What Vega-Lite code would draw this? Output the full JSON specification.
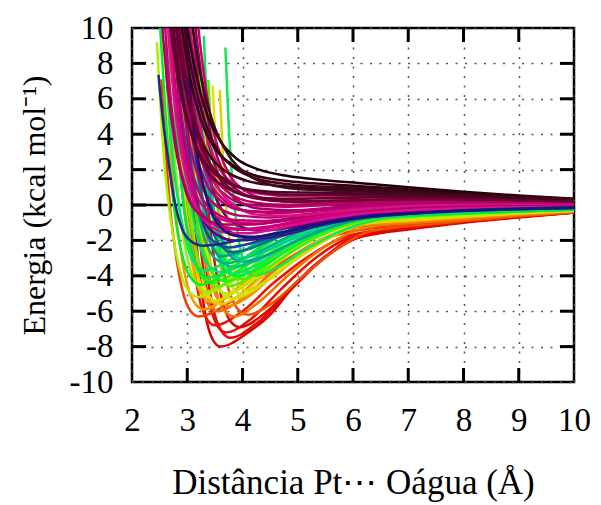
{
"$schema": "https://vega.github.io/schema/vega-lite/v6.json",
"width": 442, "height": 354,
"autosize": {"type": "none"},
"padding": {"left": 132, "top": 28, "right": 27, "bottom": 123},
"background": "white",
"config": {
  "view": {"stroke": "#000", "strokeWidth": 2.5},
  "axis": {"labelFont": "Liberation Serif", "titleFont": "Liberation Serif", "labelColor": "#000", "titleColor": "#000", "titleFontWeight": "normal", "domain": false, "gridColor": "#555", "gridDash": [2, 7.5], "gridWidth": 1.5, "labelOverlap": false, "labelFlush": false}
},
"datasets": {
"curves": [
{"c":"R1","r":2.97,"e":9},{"c":"R1","r":3.04,"e":4},{"c":"R1","r":3.11,"e":0.2},{"c":"R1","r":3.18,"e":-2.6},{"c":"R1","r":3.32,"e":-6.06},{"c":"R1","r":3.46,"e":-7.6},{"c":"R1","r":3.6,"e":-8},{"c":"R1","r":4.1,"e":-7.2},{"c":"R1","r":4.5,"e":-6.2},{"c":"R1","r":5,"e":-4.3},{"c":"R1","r":5.5,"e":-2.9},{"c":"R1","r":6,"e":-1.95},{"c":"R1","r":6.5,"e":-1.58},{"c":"R1","r":7,"e":-1.38},{"c":"R1","r":8,"e":-1},{"c":"R1","r":9,"e":-0.7},{"c":"R1","r":10,"e":-0.43},
{"c":"R2","r":3.06,"e":8.5},{"c":"R2","r":3.14,"e":3.75},{"c":"R2","r":3.22,"e":0.2},{"c":"R2","r":3.3,"e":-2.43},{"c":"R2","r":3.46,"e":-5.69},{"c":"R2","r":3.62,"e":-7.13},{"c":"R2","r":3.78,"e":-7.5},{"c":"R2","r":4.25,"e":-6.7},{"c":"R2","r":4.84,"e":-4.9},{"c":"R2","r":5.4,"e":-3.2},{"c":"R2","r":5.9,"e":-2},{"c":"R2","r":6.4,"e":-1.55},{"c":"R2","r":7,"e":-1.32},{"c":"R2","r":8,"e":-0.96},{"c":"R2","r":9,"e":-0.67},{"c":"R2","r":10,"e":-0.42},
{"c":"R7","r":3,"e":8.2},{"c":"R7","r":3.08,"e":3.7},{"c":"R7","r":3.16,"e":0.2},{"c":"R7","r":3.24,"e":-2.35},{"c":"R7","r":3.4,"e":-5.5},{"c":"R7","r":3.55,"e":-6.85},{"c":"R7","r":3.7,"e":-7.2},{"c":"R7","r":4.15,"e":-6.45},{"c":"R7","r":4.7,"e":-4.75},{"c":"R7","r":5.3,"e":-3.05},{"c":"R7","r":5.85,"e":-1.95},{"c":"R7","r":6.4,"e":-1.52},{"c":"R7","r":7,"e":-1.3},{"c":"R7","r":8,"e":-0.95},{"c":"R7","r":9,"e":-0.66},{"c":"R7","r":10,"e":-0.42},
{"c":"R3","r":2.86,"e":7.7},{"c":"R3","r":2.93,"e":3.4},{"c":"R3","r":3,"e":0.18},{"c":"R3","r":3.07,"e":-2.2},{"c":"R3","r":3.21,"e":-5.15},{"c":"R3","r":3.36,"e":-6.47},{"c":"R3","r":3.5,"e":-6.8},{"c":"R3","r":3.97,"e":-6.07},{"c":"R3","r":4.56,"e":-4.41},{"c":"R3","r":5.2,"e":-2.9},{"c":"R3","r":5.8,"e":-1.85},{"c":"R3","r":6.4,"e":-1.45},{"c":"R3","r":7,"e":-1.25},{"c":"R3","r":8,"e":-0.9},{"c":"R3","r":9,"e":-0.64},{"c":"R3","r":10,"e":-0.41},
{"c":"R4","r":2.53,"e":7.1},{"c":"R4","r":2.61,"e":3.15},{"c":"R4","r":2.68,"e":0.17},{"c":"R4","r":2.76,"e":-2.04},{"c":"R4","r":2.91,"e":-4.78},{"c":"R4","r":3.06,"e":-5.99},{"c":"R4","r":3.21,"e":-6.3},{"c":"R4","r":3.71,"e":-5.62},{"c":"R4","r":4.34,"e":-4.08},{"c":"R4","r":5,"e":-2.7},{"c":"R4","r":5.7,"e":-1.7},{"c":"R4","r":6.4,"e":-1.3},{"c":"R4","r":7,"e":-1.12},{"c":"R4","r":8,"e":-0.84},{"c":"R4","r":9,"e":-0.6},{"c":"R4","r":10,"e":-0.4},
{"c":"R5","r":3.2,"e":7.8},{"c":"R5","r":3.28,"e":3.45},{"c":"R5","r":3.37,"e":0.19},{"c":"R5","r":3.45,"e":-2.24},{"c":"R5","r":3.62,"e":-5.23},{"c":"R5","r":3.78,"e":-6.56},{"c":"R5","r":3.95,"e":-6.9},{"c":"R5","r":4.39,"e":-6.15},{"c":"R5","r":4.95,"e":-4.47},{"c":"R5","r":5.5,"e":-2.95},{"c":"R5","r":6,"e":-1.95},{"c":"R5","r":6.5,"e":-1.5},{"c":"R5","r":7,"e":-1.28},{"c":"R5","r":8,"e":-0.94},{"c":"R5","r":9,"e":-0.66},{"c":"R5","r":10,"e":-0.42},
{"c":"R6","r":3.28,"e":7},{"c":"R6","r":3.37,"e":3.1},{"c":"R6","r":3.46,"e":0.17},{"c":"R6","r":3.55,"e":-2},{"c":"R6","r":3.74,"e":-4.7},{"c":"R6","r":3.92,"e":-5.9},{"c":"R6","r":4.1,"e":-6.2},{"c":"R6","r":4.54,"e":-5.53},{"c":"R6","r":5.1,"e":-4},{"c":"R6","r":5.7,"e":-2.5},{"c":"R6","r":6.2,"e":-1.6},{"c":"R6","r":6.7,"e":-1.3},{"c":"R6","r":7.3,"e":-1.12},{"c":"R6","r":8,"e":-0.9},{"c":"R6","r":9,"e":-0.63},{"c":"R6","r":10,"e":-0.41},
{"c":"O1","r":2.86,"e":6.8},{"c":"O1","r":2.93,"e":3},{"c":"O1","r":3.01,"e":0.16},{"c":"O1","r":3.09,"e":-1.94},{"c":"O1","r":3.24,"e":-4.55},{"c":"O1","r":3.4,"e":-5.7},{"c":"O1","r":3.55,"e":-6},{"c":"O1","r":3.97,"e":-5.35},{"c":"O1","r":4.5,"e":-3.9},{"c":"O1","r":5.1,"e":-2.5},{"c":"O1","r":5.7,"e":-1.55},{"c":"O1","r":6.3,"e":-1.15},{"c":"O1","r":7,"e":-1},{"c":"O1","r":8,"e":-0.78},{"c":"O1","r":9,"e":-0.56},{"c":"O1","r":10,"e":-0.37},
{"c":"O4","r":3.12,"e":7.1},{"c":"O4","r":3.2,"e":3.2},{"c":"O4","r":3.28,"e":0.17},{"c":"O4","r":3.36,"e":-2.05},{"c":"O4","r":3.52,"e":-4.8},{"c":"O4","r":3.68,"e":-6},{"c":"O4","r":3.85,"e":-6.3},{"c":"O4","r":4.25,"e":-5.6},{"c":"O4","r":4.8,"e":-4.05},{"c":"O4","r":5.4,"e":-2.55},{"c":"O4","r":6,"e":-1.5},{"c":"O4","r":6.5,"e":-1.15},{"c":"O4","r":7,"e":-1.02},{"c":"O4","r":8,"e":-0.8},{"c":"O4","r":9,"e":-0.57},{"c":"O4","r":10,"e":-0.38},
{"c":"O2","r":3,"e":6.44},{"c":"O2","r":3.08,"e":2.85},{"c":"O2","r":3.17,"e":0.15},{"c":"O2","r":3.25,"e":-1.85},{"c":"O2","r":3.42,"e":-4.32},{"c":"O2","r":3.58,"e":-5.42},{"c":"O2","r":3.75,"e":-5.7},{"c":"O2","r":4.15,"e":-5.08},{"c":"O2","r":4.65,"e":-3.69},{"c":"O2","r":5.25,"e":-2.26},{"c":"O2","r":5.95,"e":-1.3},{"c":"O2","r":6.5,"e":-1.05},{"c":"O2","r":7,"e":-0.95},{"c":"O2","r":8,"e":-0.72},{"c":"O2","r":9,"e":-0.52},{"c":"O2","r":10,"e":-0.35},
{"c":"O5","r":2.62,"e":7.6},{"c":"O5","r":2.7,"e":3.3},{"c":"O5","r":2.77,"e":0.16},{"c":"O5","r":2.85,"e":-1.9},{"c":"O5","r":3,"e":-4.5},{"c":"O5","r":3.15,"e":-5.6},{"c":"O5","r":3.3,"e":-5.9},{"c":"O5","r":3.7,"e":-5.25},{"c":"O5","r":4.2,"e":-3.8},{"c":"O5","r":4.8,"e":-2.35},{"c":"O5","r":5.5,"e":-1.3},{"c":"O5","r":6.2,"e":-0.98},{"c":"O5","r":7,"e":-0.87},{"c":"O5","r":8,"e":-0.68},{"c":"O5","r":9,"e":-0.49},{"c":"O5","r":10,"e":-0.34},
{"c":"O3","r":2.75,"e":8.4},{"c":"O3","r":2.78,"e":6.2},{"c":"O3","r":2.86,"e":2.75},{"c":"O3","r":2.93,"e":0.15},{"c":"O3","r":3.01,"e":-1.78},{"c":"O3","r":3.15,"e":-4.17},{"c":"O3","r":3.3,"e":-5.23},{"c":"O3","r":3.45,"e":-5.5},{"c":"O3","r":3.85,"e":-4.9},{"c":"O3","r":4.35,"e":-3.56},{"c":"O3","r":4.95,"e":-2.18},{"c":"O3","r":5.65,"e":-1.2},{"c":"O3","r":6.3,"e":-0.95},{"c":"O3","r":7,"e":-0.85},{"c":"O3","r":8,"e":-0.66},{"c":"O3","r":9,"e":-0.48},{"c":"O3","r":10,"e":-0.33},
{"c":"Y1","r":2.88,"e":6.33},{"c":"Y1","r":2.96,"e":2.8},{"c":"Y1","r":3.04,"e":0.15},{"c":"Y1","r":3.12,"e":-1.81},{"c":"Y1","r":3.28,"e":-4.24},{"c":"Y1","r":3.44,"e":-5.33},{"c":"Y1","r":3.6,"e":-5.6},{"c":"Y1","r":4,"e":-5},{"c":"Y1","r":4.5,"e":-3.63},{"c":"Y1","r":5.1,"e":-2.22},{"c":"Y1","r":5.8,"e":-1.25},{"c":"Y1","r":6.4,"e":-0.98},{"c":"Y1","r":7,"e":-0.87},{"c":"Y1","r":8,"e":-0.66},{"c":"Y1","r":9,"e":-0.47},{"c":"Y1","r":10,"e":-0.32},
{"c":"Y6","r":2.8,"e":7},{"c":"Y6","r":2.88,"e":2.7},{"c":"Y6","r":2.96,"e":0.14},{"c":"Y6","r":3.04,"e":-1.75},{"c":"Y6","r":3.2,"e":-4.1},{"c":"Y6","r":3.35,"e":-5.15},{"c":"Y6","r":3.5,"e":-5.4},{"c":"Y6","r":3.9,"e":-4.85},{"c":"Y6","r":4.4,"e":-3.5},{"c":"Y6","r":5,"e":-2.15},{"c":"Y6","r":5.7,"e":-1.2},{"c":"Y6","r":6.3,"e":-0.95},{"c":"Y6","r":7,"e":-0.84},{"c":"Y6","r":8,"e":-0.64},{"c":"Y6","r":9,"e":-0.46},{"c":"Y6","r":10,"e":-0.31},
{"c":"Y2","r":2.95,"e":6},{"c":"Y2","r":3.05,"e":2.65},{"c":"Y2","r":3.15,"e":0.14},{"c":"Y2","r":3.25,"e":-1.72},{"c":"Y2","r":3.45,"e":-4.02},{"c":"Y2","r":3.65,"e":-5.04},{"c":"Y2","r":3.85,"e":-5.3},{"c":"Y2","r":4.25,"e":-4.73},{"c":"Y2","r":4.75,"e":-3.43},{"c":"Y2","r":5.35,"e":-2.1},{"c":"Y2","r":6.05,"e":-1.15},{"c":"Y2","r":6.6,"e":-0.93},{"c":"Y2","r":7,"e":-0.84},{"c":"Y2","r":8,"e":-0.63},{"c":"Y2","r":9,"e":-0.45},{"c":"Y2","r":10,"e":-0.31},
{"c":"Y3","r":3.46,"e":6.75},{"c":"Y3","r":3.53,"e":2.5},{"c":"Y3","r":3.58,"e":0.14},{"c":"Y3","r":3.63,"e":-1.62},{"c":"Y3","r":3.74,"e":-3.79},{"c":"Y3","r":3.84,"e":-4.76},{"c":"Y3","r":3.95,"e":-5},{"c":"Y3","r":4.35,"e":-4.46},{"c":"Y3","r":4.85,"e":-3.24},{"c":"Y3","r":5.45,"e":-1.99},{"c":"Y3","r":6.15,"e":-1.08},{"c":"Y3","r":6.7,"e":-0.9},{"c":"Y3","r":7.2,"e":-0.8},{"c":"Y3","r":8,"e":-0.62},{"c":"Y3","r":9,"e":-0.44},{"c":"Y3","r":10,"e":-0.3},
{"c":"Y4","r":3.59,"e":6.5},{"c":"Y4","r":3.65,"e":2.4},{"c":"Y4","r":3.7,"e":0.13},{"c":"Y4","r":3.75,"e":-1.56},{"c":"Y4","r":3.85,"e":-3.64},{"c":"Y4","r":3.95,"e":-4.56},{"c":"Y4","r":4.05,"e":-4.8},{"c":"Y4","r":4.45,"e":-4.28},{"c":"Y4","r":4.95,"e":-3.11},{"c":"Y4","r":5.55,"e":-1.91},{"c":"Y4","r":6.25,"e":-1.02},{"c":"Y4","r":6.8,"e":-0.86},{"c":"Y4","r":7.3,"e":-0.76},{"c":"Y4","r":8,"e":-0.6},{"c":"Y4","r":9,"e":-0.43},{"c":"Y4","r":10,"e":-0.29},
{"c":"Y7","r":3.05,"e":7.5},{"c":"Y7","r":3.14,"e":2.5},{"c":"Y7","r":3.22,"e":0.13},{"c":"Y7","r":3.3,"e":-1.62},{"c":"Y7","r":3.46,"e":-3.8},{"c":"Y7","r":3.58,"e":-4.76},{"c":"Y7","r":3.7,"e":-5},{"c":"Y7","r":4.1,"e":-4.46},{"c":"Y7","r":4.6,"e":-3.24},{"c":"Y7","r":5.2,"e":-1.99},{"c":"Y7","r":5.9,"e":-1.1},{"c":"Y7","r":6.5,"e":-0.86},{"c":"Y7","r":7,"e":-0.78},{"c":"Y7","r":8,"e":-0.6},{"c":"Y7","r":9,"e":-0.43},{"c":"Y7","r":10,"e":-0.29},
{"c":"Y5","r":2.45,"e":9.2},{"c":"Y5","r":2.51,"e":5.9},{"c":"Y5","r":2.58,"e":2.6},{"c":"Y5","r":2.66,"e":0.14},{"c":"Y5","r":2.74,"e":-1.68},{"c":"Y5","r":2.89,"e":-3.94},{"c":"Y5","r":3.05,"e":-4.95},{"c":"Y5","r":3.2,"e":-5.2},{"c":"Y5","r":3.6,"e":-4.64},{"c":"Y5","r":4.1,"e":-3.37},{"c":"Y5","r":4.7,"e":-2.06},{"c":"Y5","r":5.4,"e":-1.12},{"c":"Y5","r":6.2,"e":-0.82},{"c":"Y5","r":7,"e":-0.7},{"c":"Y5","r":8,"e":-0.55},{"c":"Y5","r":9,"e":-0.4},{"c":"Y5","r":10,"e":-0.28},
{"c":"G1","r":2.64,"e":9.55},{"c":"G1","r":2.71,"e":5.5},{"c":"G1","r":2.78,"e":2.45},{"c":"G1","r":2.85,"e":0.13},{"c":"G1","r":2.92,"e":-1.59},{"c":"G1","r":3.06,"e":-3.71},{"c":"G1","r":3.21,"e":-4.66},{"c":"G1","r":3.35,"e":-4.9},{"c":"G1","r":3.71,"e":-4.37},{"c":"G1","r":4.17,"e":-3.18},{"c":"G1","r":4.71,"e":-1.95},{"c":"G1","r":5.35,"e":-1.05},{"c":"G1","r":6,"e":-0.8},{"c":"G1","r":7,"e":-0.62},{"c":"G1","r":8,"e":-0.5},{"c":"G1","r":9,"e":-0.38},{"c":"G1","r":10,"e":-0.27},
{"c":"G10","r":3.22,"e":8},{"c":"G10","r":3.3,"e":3.8},{"c":"G10","r":3.38,"e":1.2},{"c":"G10","r":3.46,"e":-0.6},{"c":"G10","r":3.56,"e":-2.8},{"c":"G10","r":3.66,"e":-4.1},{"c":"G10","r":3.75,"e":-4.6},{"c":"G10","r":4.1,"e":-4.15},{"c":"G10","r":4.6,"e":-3},{"c":"G10","r":5.2,"e":-1.8},{"c":"G10","r":5.9,"e":-0.98},{"c":"G10","r":6.5,"e":-0.74},{"c":"G10","r":7,"e":-0.64},{"c":"G10","r":8,"e":-0.5},{"c":"G10","r":9,"e":-0.37},{"c":"G10","r":10,"e":-0.26},
{"c":"G2","r":2.78,"e":8.97},{"c":"G2","r":2.86,"e":5.2},{"c":"G2","r":2.93,"e":2.3},{"c":"G2","r":3.01,"e":0.12},{"c":"G2","r":3.09,"e":-1.49},{"c":"G2","r":3.24,"e":-3.49},{"c":"G2","r":3.4,"e":-4.37},{"c":"G2","r":3.55,"e":-4.6},{"c":"G2","r":3.91,"e":-4.1},{"c":"G2","r":4.37,"e":-2.98},{"c":"G2","r":4.91,"e":-1.83},{"c":"G2","r":5.55,"e":-1},{"c":"G2","r":6.2,"e":-0.74},{"c":"G2","r":7,"e":-0.6},{"c":"G2","r":8,"e":-0.48},{"c":"G2","r":9,"e":-0.36},{"c":"G2","r":10,"e":-0.26},
{"c":"G8","r":2.7,"e":9.5},{"c":"G8","r":2.78,"e":5},{"c":"G8","r":2.86,"e":2.2},{"c":"G8","r":2.93,"e":0.12},{"c":"G8","r":3,"e":-1.43},{"c":"G8","r":3.15,"e":-3.34},{"c":"G8","r":3.3,"e":-4.18},{"c":"G8","r":3.45,"e":-4.4},{"c":"G8","r":3.82,"e":-3.92},{"c":"G8","r":4.3,"e":-2.85},{"c":"G8","r":4.85,"e":-1.75},{"c":"G8","r":5.5,"e":-0.95},{"c":"G8","r":6.2,"e":-0.72},{"c":"G8","r":7,"e":-0.58},{"c":"G8","r":8,"e":-0.46},{"c":"G8","r":9,"e":-0.35},{"c":"G8","r":10,"e":-0.25},
{"c":"G3","r":2.87,"e":8.4},{"c":"G3","r":2.95,"e":4.86},{"c":"G3","r":3.03,"e":2.15},{"c":"G3","r":3.12,"e":0.12},{"c":"G3","r":3.2,"e":-1.39},{"c":"G3","r":3.37,"e":-3.26},{"c":"G3","r":3.53,"e":-4.09},{"c":"G3","r":3.7,"e":-4.3},{"c":"G3","r":4.1,"e":-3.84},{"c":"G3","r":4.6,"e":-2.79},{"c":"G3","r":5.2,"e":-1.71},{"c":"G3","r":5.9,"e":-0.95},{"c":"G3","r":6.5,"e":-0.7},{"c":"G3","r":7,"e":-0.6},{"c":"G3","r":8,"e":-0.46},{"c":"G3","r":9,"e":-0.35},{"c":"G3","r":10,"e":-0.25},
{"c":"G4","r":3.69,"e":8.9},{"c":"G4","r":3.75,"e":4.52},{"c":"G4","r":3.8,"e":2},{"c":"G4","r":3.85,"e":0.11},{"c":"G4","r":3.9,"e":-1.3},{"c":"G4","r":4,"e":-3.03},{"c":"G4","r":4.1,"e":-3.8},{"c":"G4","r":4.2,"e":-4},{"c":"G4","r":4.6,"e":-3.57},{"c":"G4","r":5.1,"e":-2.59},{"c":"G4","r":5.7,"e":-1.59},{"c":"G4","r":6.4,"e":-0.86},{"c":"G4","r":7,"e":-0.66},{"c":"G4","r":8,"e":-0.48},{"c":"G4","r":9,"e":-0.36},{"c":"G4","r":10,"e":-0.25},
{"c":"G5","r":2.51,"e":10},{"c":"G5","r":2.61,"e":5.1},{"c":"G5","r":2.68,"e":2.25},{"c":"G5","r":2.75,"e":0.12},{"c":"G5","r":2.82,"e":-1.46},{"c":"G5","r":2.96,"e":-3.41},{"c":"G5","r":3.11,"e":-4.28},{"c":"G5","r":3.25,"e":-4.5},{"c":"G5","r":3.61,"e":-4.01},{"c":"G5","r":4.07,"e":-2.92},{"c":"G5","r":4.61,"e":-1.79},{"c":"G5","r":5.25,"e":-0.97},{"c":"G5","r":6,"e":-0.7},{"c":"G5","r":7,"e":-0.55},{"c":"G5","r":8,"e":-0.44},{"c":"G5","r":9,"e":-0.33},{"c":"G5","r":10,"e":-0.24},
{"c":"G6","r":3.38,"e":7.06},{"c":"G6","r":3.42,"e":4.75},{"c":"G6","r":3.48,"e":2.1},{"c":"G6","r":3.54,"e":0.11},{"c":"G6","r":3.6,"e":-1.36},{"c":"G6","r":3.71,"e":-3.18},{"c":"G6","r":3.83,"e":-3.99},{"c":"G6","r":3.95,"e":-4.2},{"c":"G6","r":4.35,"e":-3.75},{"c":"G6","r":4.85,"e":-2.72},{"c":"G6","r":5.45,"e":-1.67},{"c":"G6","r":6.15,"e":-0.9},{"c":"G6","r":6.7,"e":-0.7},{"c":"G6","r":7.2,"e":-0.62},{"c":"G6","r":8,"e":-0.47},{"c":"G6","r":9,"e":-0.35},{"c":"G6","r":10,"e":-0.25},
{"c":"G9","r":3.15,"e":9},{"c":"G9","r":3.24,"e":4.4},{"c":"G9","r":3.32,"e":1.95},{"c":"G9","r":3.41,"e":0.1},{"c":"G9","r":3.5,"e":-1.3},{"c":"G9","r":3.66,"e":-3.03},{"c":"G9","r":3.78,"e":-3.8},{"c":"G9","r":3.9,"e":-4},{"c":"G9","r":4.3,"e":-3.57},{"c":"G9","r":4.8,"e":-2.59},{"c":"G9","r":5.4,"e":-1.59},{"c":"G9","r":6.1,"e":-0.86},{"c":"G9","r":6.7,"e":-0.66},{"c":"G9","r":7.3,"e":-0.56},{"c":"G9","r":8,"e":-0.47},{"c":"G9","r":9,"e":-0.35},{"c":"G9","r":10,"e":-0.25},
{"c":"G7","r":3.3,"e":9.55},{"c":"G7","r":3.37,"e":4.4},{"c":"G7","r":3.42,"e":1.95},{"c":"G7","r":3.47,"e":0.1},{"c":"G7","r":3.51,"e":-1.26},{"c":"G7","r":3.61,"e":-2.96},{"c":"G7","r":3.7,"e":-3.71},{"c":"G7","r":3.8,"e":-3.9},{"c":"G7","r":4.2,"e":-3.48},{"c":"G7","r":4.7,"e":-2.53},{"c":"G7","r":5.3,"e":-1.55},{"c":"G7","r":6,"e":-0.84},{"c":"G7","r":6.6,"e":-0.66},{"c":"G7","r":7.2,"e":-0.56},{"c":"G7","r":8,"e":-0.45},{"c":"G7","r":9,"e":-0.34},{"c":"G7","r":10,"e":-0.24},
{"c":"G11","r":2.6,"e":9},{"c":"G11","r":2.68,"e":4.9},{"c":"G11","r":2.76,"e":2},{"c":"G11","r":2.84,"e":0.1},{"c":"G11","r":2.92,"e":-1.2},{"c":"G11","r":3.05,"e":-2.8},{"c":"G11","r":3.18,"e":-3.5},{"c":"G11","r":3.3,"e":-3.7},{"c":"G11","r":3.66,"e":-3.3},{"c":"G11","r":4.12,"e":-2.4},{"c":"G11","r":4.66,"e":-1.47},{"c":"G11","r":5.3,"e":-0.8},{"c":"G11","r":6,"e":-0.62},{"c":"G11","r":7,"e":-0.5},{"c":"G11","r":8,"e":-0.4},{"c":"G11","r":9,"e":-0.31},{"c":"G11","r":10,"e":-0.22},
{"c":"T1","r":2.79,"e":9.3},{"c":"T1","r":2.83,"e":7.4},{"c":"T1","r":2.91,"e":4.3},{"c":"T1","r":2.98,"e":1.9},{"c":"T1","r":3.06,"e":0.1},{"c":"T1","r":3.14,"e":-1.23},{"c":"T1","r":3.29,"e":-2.88},{"c":"T1","r":3.45,"e":-3.61},{"c":"T1","r":3.6,"e":-3.8},{"c":"T1","r":4,"e":-3.39},{"c":"T1","r":4.5,"e":-2.46},{"c":"T1","r":5.1,"e":-1.51},{"c":"T1","r":5.8,"e":-0.82},{"c":"T1","r":6.5,"e":-0.62},{"c":"T1","r":7,"e":-0.55},{"c":"T1","r":8,"e":-0.42},{"c":"T1","r":9,"e":-0.32},{"c":"T1","r":10,"e":-0.23},
{"c":"T2","r":2.96,"e":9.45},{"c":"T2","r":3.02,"e":6.83},{"c":"T2","r":3.1,"e":3.96},{"c":"T2","r":3.18,"e":1.75},{"c":"T2","r":3.27,"e":0.09},{"c":"T2","r":3.35,"e":-1.13},{"c":"T2","r":3.52,"e":-2.65},{"c":"T2","r":3.68,"e":-3.33},{"c":"T2","r":3.85,"e":-3.5},{"c":"T2","r":4.27,"e":-3.12},{"c":"T2","r":4.8,"e":-2.27},{"c":"T2","r":5.43,"e":-1.39},{"c":"T2","r":6.17,"e":-0.75},{"c":"T2","r":6.7,"e":-0.6},{"c":"T2","r":7.2,"e":-0.52},{"c":"T2","r":8,"e":-0.4},{"c":"T2","r":9,"e":-0.3},{"c":"T2","r":10,"e":-0.22},
{"c":"T6","r":3.05,"e":9.8},{"c":"T6","r":3.14,"e":6},{"c":"T6","r":3.24,"e":3.4},{"c":"T6","r":3.33,"e":1.5},{"c":"T6","r":3.42,"e":0.08},{"c":"T6","r":3.52,"e":-0.97},{"c":"T6","r":3.7,"e":-2.27},{"c":"T6","r":3.85,"e":-2.85},{"c":"T6","r":3.95,"e":-3},{"c":"T6","r":4.35,"e":-2.67},{"c":"T6","r":4.9,"e":-1.94},{"c":"T6","r":5.5,"e":-1.19},{"c":"T6","r":6.25,"e":-0.66},{"c":"T6","r":7,"e":-0.5},{"c":"T6","r":8,"e":-0.37},{"c":"T6","r":9,"e":-0.28},{"c":"T6","r":10,"e":-0.2},
{"c":"T3","r":3.12,"e":9.66},{"c":"T3","r":3.2,"e":6.24},{"c":"T3","r":3.28,"e":3.62},{"c":"T3","r":3.36,"e":1.6},{"c":"T3","r":3.44,"e":0.09},{"c":"T3","r":3.52,"e":-1.04},{"c":"T3","r":3.68,"e":-2.43},{"c":"T3","r":3.84,"e":-3.04},{"c":"T3","r":4,"e":-3.2},{"c":"T3","r":4.42,"e":-2.85},{"c":"T3","r":4.95,"e":-2.07},{"c":"T3","r":5.58,"e":-1.27},{"c":"T3","r":6.32,"e":-0.69},{"c":"T3","r":7,"e":-0.52},{"c":"T3","r":8,"e":-0.38},{"c":"T3","r":9,"e":-0.29},{"c":"T3","r":10,"e":-0.21},
{"c":"T4","r":2.85,"e":9.97},{"c":"T4","r":2.93,"e":6.44},{"c":"T4","r":3.01,"e":3.73},{"c":"T4","r":3.08,"e":1.65},{"c":"T4","r":3.16,"e":0.09},{"c":"T4","r":3.24,"e":-1.07},{"c":"T4","r":3.39,"e":-2.5},{"c":"T4","r":3.55,"e":-3.14},{"c":"T4","r":3.7,"e":-3.3},{"c":"T4","r":4.1,"e":-2.94},{"c":"T4","r":4.6,"e":-2.14},{"c":"T4","r":5.2,"e":-1.31},{"c":"T4","r":5.9,"e":-0.72},{"c":"T4","r":6.5,"e":-0.57},{"c":"T4","r":7,"e":-0.5},{"c":"T4","r":8,"e":-0.39},{"c":"T4","r":9,"e":-0.3},{"c":"T4","r":10,"e":-0.22},
{"c":"T7","r":2.88,"e":9},{"c":"T7","r":2.96,"e":5.6},{"c":"T7","r":3.04,"e":3.2},{"c":"T7","r":3.12,"e":1.4},{"c":"T7","r":3.2,"e":0.08},{"c":"T7","r":3.28,"e":-0.94},{"c":"T7","r":3.43,"e":-2.2},{"c":"T7","r":3.52,"e":-2.7},{"c":"T7","r":3.6,"e":-2.9},{"c":"T7","r":4,"e":-2.6},{"c":"T7","r":4.5,"e":-1.9},{"c":"T7","r":5.1,"e":-1.15},{"c":"T7","r":5.8,"e":-0.62},{"c":"T7","r":6.5,"e":-0.48},{"c":"T7","r":7.5,"e":-0.37},{"c":"T7","r":8.5,"e":-0.28},{"c":"T7","r":10,"e":-0.2},
{"c":"T5","r":2.7,"e":10},{"c":"T5","r":2.8,"e":4.63},{"c":"T5","r":2.87,"e":2.05},{"c":"T5","r":2.93,"e":0.11},{"c":"T5","r":3,"e":-1.33},{"c":"T5","r":3.13,"e":-3.11},{"c":"T5","r":3.27,"e":-3.9},{"c":"T5","r":3.4,"e":-4.1},{"c":"T5","r":3.76,"e":-3.66},{"c":"T5","r":4.22,"e":-2.66},{"c":"T5","r":4.76,"e":-1.63},{"c":"T5","r":5.4,"e":-0.9},{"c":"T5","r":6,"e":-0.68},{"c":"T5","r":7,"e":-0.53},{"c":"T5","r":8,"e":-0.42},{"c":"T5","r":9,"e":-0.32},{"c":"T5","r":10,"e":-0.23},
{"c":"B3","r":2.95,"e":9.5},{"c":"B3","r":3.08,"e":4.5},{"c":"B3","r":3.18,"e":2},{"c":"B3","r":3.3,"e":0.1},{"c":"B3","r":3.42,"e":-1.2},{"c":"B3","r":3.58,"e":-2.2},{"c":"B3","r":3.8,"e":-2.65},{"c":"B3","r":4.1,"e":-2.5},{"c":"B3","r":4.5,"e":-2},{"c":"B3","r":5,"e":-1.45},{"c":"B3","r":5.7,"e":-0.85},{"c":"B3","r":6.5,"e":-0.55},{"c":"B3","r":7.5,"e":-0.38},{"c":"B3","r":8.5,"e":-0.27},{"c":"B3","r":10,"e":-0.19},
{"c":"B4","r":2.85,"e":10},{"c":"B4","r":2.95,"e":5.5},{"c":"B4","r":3.05,"e":2.6},{"c":"B4","r":3.17,"e":0.3},{"c":"B4","r":3.3,"e":-1.2},{"c":"B4","r":3.5,"e":-2.1},{"c":"B4","r":3.75,"e":-2.4},{"c":"B4","r":4.1,"e":-2.2},{"c":"B4","r":4.6,"e":-1.75},{"c":"B4","r":5.2,"e":-1.25},{"c":"B4","r":6,"e":-0.8},{"c":"B4","r":7,"e":-0.5},{"c":"B4","r":8,"e":-0.34},{"c":"B4","r":9,"e":-0.24},{"c":"B4","r":10,"e":-0.17},
{"c":"P1","r":2.92,"e":10},{"c":"P1","r":3.02,"e":6.2},{"c":"P1","r":3.14,"e":3.2},{"c":"P1","r":3.3,"e":0.9},{"c":"P1","r":3.5,"e":-0.6},{"c":"P1","r":3.75,"e":-1.45},{"c":"P1","r":4.05,"e":-1.8},{"c":"P1","r":4.4,"e":-1.85},{"c":"P1","r":4.8,"e":-1.65},{"c":"P1","r":5.4,"e":-1.15},{"c":"P1","r":6.1,"e":-0.7},{"c":"P1","r":7,"e":-0.42},{"c":"P1","r":8,"e":-0.27},{"c":"P1","r":9,"e":-0.17},{"c":"P1","r":10,"e":-0.1},
{"c":"P2","r":3.05,"e":10},{"c":"P2","r":3.15,"e":6.5},{"c":"P2","r":3.28,"e":3.5},{"c":"P2","r":3.45,"e":1},{"c":"P2","r":3.65,"e":-0.4},{"c":"P2","r":3.95,"e":-1.2},{"c":"P2","r":4.3,"e":-1.45},{"c":"P2","r":4.7,"e":-1.35},{"c":"P2","r":5.3,"e":-1},{"c":"P2","r":6,"e":-0.6},{"c":"P2","r":7,"e":-0.35},{"c":"P2","r":8,"e":-0.2},{"c":"P2","r":9,"e":-0.1},{"c":"P2","r":10,"e":-0.04},
{"c":"P3","r":2.75,"e":10},{"c":"P3","r":2.85,"e":6},{"c":"P3","r":2.97,"e":3},{"c":"P3","r":3.12,"e":0.6},{"c":"P3","r":3.3,"e":-0.9},{"c":"P3","r":3.55,"e":-1.7},{"c":"P3","r":3.85,"e":-2},{"c":"P3","r":4.2,"e":-1.95},{"c":"P3","r":4.7,"e":-1.6},{"c":"P3","r":5.3,"e":-1.1},{"c":"P3","r":6,"e":-0.7},{"c":"P3","r":7,"e":-0.42},{"c":"P3","r":8,"e":-0.28},{"c":"P3","r":9,"e":-0.18},{"c":"P3","r":10,"e":-0.11},
{"c":"M1","r":2.6,"e":10},{"c":"M1","r":2.7,"e":6},{"c":"M1","r":2.82,"e":3},{"c":"M1","r":3,"e":0.7},{"c":"M1","r":3.25,"e":-0.6},{"c":"M1","r":3.6,"e":-1.2},{"c":"M1","r":4,"e":-1.35},{"c":"M1","r":4.5,"e":-1.2},{"c":"M1","r":5.2,"e":-0.8},{"c":"M1","r":6,"e":-0.45},{"c":"M1","r":7,"e":-0.25},{"c":"M1","r":8,"e":-0.12},{"c":"M1","r":9,"e":-0.05},{"c":"M1","r":10,"e":-0.02},
{"c":"M2","r":2.7,"e":10},{"c":"M2","r":2.8,"e":6.2},{"c":"M2","r":2.93,"e":3.2},{"c":"M2","r":3.12,"e":0.9},{"c":"M2","r":3.4,"e":-0.4},{"c":"M2","r":3.8,"e":-0.95},{"c":"M2","r":4.3,"e":-1.05},{"c":"M2","r":4.9,"e":-0.85},{"c":"M2","r":5.6,"e":-0.5},{"c":"M2","r":6.5,"e":-0.25},{"c":"M2","r":7.5,"e":-0.1},{"c":"M2","r":8.5,"e":0},{"c":"M2","r":10,"e":0.03},
{"c":"M13","r":2.75,"e":10},{"c":"M13","r":2.85,"e":6.4},{"c":"M13","r":2.98,"e":3.3},{"c":"M13","r":3.18,"e":1},{"c":"M13","r":3.45,"e":-0.3},{"c":"M13","r":3.85,"e":-0.85},{"c":"M13","r":4.4,"e":-0.9},{"c":"M13","r":5,"e":-0.7},{"c":"M13","r":5.8,"e":-0.4},{"c":"M13","r":6.7,"e":-0.18},{"c":"M13","r":7.7,"e":-0.05},{"c":"M13","r":8.7,"e":0.02},{"c":"M13","r":10,"e":0.05},
{"c":"M3","r":2.8,"e":10},{"c":"M3","r":2.9,"e":6.5},{"c":"M3","r":3.04,"e":3.5},{"c":"M3","r":3.25,"e":1.2},{"c":"M3","r":3.55,"e":-0.1},{"c":"M3","r":3.95,"e":-0.6},{"c":"M3","r":4.5,"e":-0.7},{"c":"M3","r":5.2,"e":-0.5},{"c":"M3","r":6,"e":-0.25},{"c":"M3","r":7,"e":-0.08},{"c":"M3","r":8,"e":0.03},{"c":"M3","r":9,"e":0.07},{"c":"M3","r":10,"e":0.08},
{"c":"M4","r":2.9,"e":10},{"c":"M4","r":3,"e":6.8},{"c":"M4","r":3.15,"e":3.8},{"c":"M4","r":3.38,"e":1.5},{"c":"M4","r":3.7,"e":0.2},{"c":"M4","r":4.1,"e":-0.35},{"c":"M4","r":4.7,"e":-0.45},{"c":"M4","r":5.4,"e":-0.3},{"c":"M4","r":6.2,"e":-0.1},{"c":"M4","r":7,"e":0.05},{"c":"M4","r":8,"e":0.12},{"c":"M4","r":9,"e":0.14},{"c":"M4","r":10,"e":0.13},
{"c":"M5","r":3.1,"e":10},{"c":"M5","r":3.2,"e":7},{"c":"M5","r":3.35,"e":4},{"c":"M5","r":3.58,"e":1.6},{"c":"M5","r":3.9,"e":0.3},{"c":"M5","r":4.3,"e":-0.2},{"c":"M5","r":4.9,"e":-0.3},{"c":"M5","r":5.6,"e":-0.15},{"c":"M5","r":6.5,"e":0.05},{"c":"M5","r":7.5,"e":0.14},{"c":"M5","r":8.5,"e":0.17},{"c":"M5","r":10,"e":0.15},
{"c":"M15","r":2.68,"e":10},{"c":"M15","r":2.78,"e":6.3},{"c":"M15","r":2.91,"e":3.1},{"c":"M15","r":3.1,"e":0.6},{"c":"M15","r":3.36,"e":-0.8},{"c":"M15","r":3.72,"e":-1.35},{"c":"M15","r":4.15,"e":-1.4},{"c":"M15","r":4.7,"e":-1.15},{"c":"M15","r":5.4,"e":-0.75},{"c":"M15","r":6.2,"e":-0.42},{"c":"M15","r":7.2,"e":-0.22},{"c":"M15","r":8.2,"e":-0.1},{"c":"M15","r":10,"e":-0.02},
{"c":"M6","r":2.65,"e":10},{"c":"M6","r":2.76,"e":6},{"c":"M6","r":2.9,"e":2.8},{"c":"M6","r":3.1,"e":0.3},{"c":"M6","r":3.35,"e":-1},{"c":"M6","r":3.7,"e":-1.55},{"c":"M6","r":4.1,"e":-1.6},{"c":"M6","r":4.6,"e":-1.35},{"c":"M6","r":5.3,"e":-0.9},{"c":"M6","r":6,"e":-0.55},{"c":"M6","r":7,"e":-0.3},{"c":"M6","r":8,"e":-0.18},{"c":"M6","r":9,"e":-0.1},{"c":"M6","r":10,"e":-0.05},
{"c":"M7","r":2.95,"e":10},{"c":"M7","r":3.05,"e":7.2},{"c":"M7","r":3.2,"e":4.2},{"c":"M7","r":3.42,"e":2},{"c":"M7","r":3.75,"e":0.7},{"c":"M7","r":4.2,"e":0.15},{"c":"M7","r":4.8,"e":0},{"c":"M7","r":5.5,"e":0.1},{"c":"M7","r":6.5,"e":0.2},{"c":"M7","r":7.5,"e":0.24},{"c":"M7","r":8.5,"e":0.23},{"c":"M7","r":10,"e":0.18},
{"c":"M16","r":2.92,"e":10},{"c":"M16","r":3.03,"e":7},{"c":"M16","r":3.18,"e":4},{"c":"M16","r":3.4,"e":1.8},{"c":"M16","r":3.72,"e":0.5},{"c":"M16","r":4.15,"e":0},{"c":"M16","r":4.75,"e":-0.1},{"c":"M16","r":5.5,"e":0},{"c":"M16","r":6.4,"e":0.12},{"c":"M16","r":7.4,"e":0.18},{"c":"M16","r":8.4,"e":0.19},{"c":"M16","r":10,"e":0.16},
{"c":"M8","r":3.2,"e":10},{"c":"M8","r":3.3,"e":7.4},{"c":"M8","r":3.45,"e":4.5},{"c":"M8","r":3.7,"e":2.1},{"c":"M8","r":4.05,"e":0.8},{"c":"M8","r":4.5,"e":0.3},{"c":"M8","r":5.1,"e":0.15},{"c":"M8","r":5.8,"e":0.2},{"c":"M8","r":6.8,"e":0.28},{"c":"M8","r":8,"e":0.28},{"c":"M8","r":9,"e":0.25},{"c":"M8","r":10,"e":0.2},
{"c":"M9","r":2.55,"e":10},{"c":"M9","r":2.65,"e":6.5},{"c":"M9","r":2.78,"e":3.4},{"c":"M9","r":2.97,"e":0.8},{"c":"M9","r":3.25,"e":-0.6},{"c":"M9","r":3.65,"e":-1.1},{"c":"M9","r":4.2,"e":-1.1},{"c":"M9","r":4.9,"e":-0.75},{"c":"M9","r":5.7,"e":-0.4},{"c":"M9","r":6.6,"e":-0.18},{"c":"M9","r":7.6,"e":-0.05},{"c":"M9","r":8.6,"e":0.02},{"c":"M9","r":10,"e":0.04},
{"c":"M10","r":3,"e":10},{"c":"M10","r":3.12,"e":6.8},{"c":"M10","r":3.27,"e":3.9},{"c":"M10","r":3.5,"e":1.4},{"c":"M10","r":3.85,"e":0},{"c":"M10","r":4.3,"e":-0.55},{"c":"M10","r":4.9,"e":-0.6},{"c":"M10","r":5.6,"e":-0.4},{"c":"M10","r":6.5,"e":-0.15},{"c":"M10","r":7.5,"e":0},{"c":"M10","r":8.5,"e":0.07},{"c":"M10","r":10,"e":0.09},
{"c":"M11","r":3.05,"e":10},{"c":"M11","r":3.17,"e":7},{"c":"M11","r":3.33,"e":4.2},{"c":"M11","r":3.58,"e":2.1},{"c":"M11","r":3.9,"e":1.1},{"c":"M11","r":4.3,"e":0.65},{"c":"M11","r":4.9,"e":0.5},{"c":"M11","r":5.6,"e":0.5},{"c":"M11","r":6.5,"e":0.48},{"c":"M11","r":7.5,"e":0.42},{"c":"M11","r":8.5,"e":0.35},{"c":"M11","r":10,"e":0.25},
{"c":"M14","r":3.15,"e":10},{"c":"M14","r":3.26,"e":7.2},{"c":"M14","r":3.4,"e":4.4},{"c":"M14","r":3.63,"e":2},{"c":"M14","r":3.95,"e":0.75},{"c":"M14","r":4.4,"e":0.3},{"c":"M14","r":5,"e":0.2},{"c":"M14","r":5.7,"e":0.25},{"c":"M14","r":6.6,"e":0.3},{"c":"M14","r":7.6,"e":0.3},{"c":"M14","r":8.6,"e":0.27},{"c":"M14","r":10,"e":0.2},
{"c":"M12","r":2.85,"e":10},{"c":"M12","r":2.96,"e":6.6},{"c":"M12","r":3.1,"e":3.7},{"c":"M12","r":3.32,"e":1.4},{"c":"M12","r":3.62,"e":0.2},{"c":"M12","r":4,"e":-0.3},{"c":"M12","r":4.6,"e":-0.4},{"c":"M12","r":5.3,"e":-0.25},{"c":"M12","r":6.1,"e":-0.05},{"c":"M12","r":7,"e":0.08},{"c":"M12","r":8,"e":0.14},{"c":"M12","r":9,"e":0.15},{"c":"M12","r":10,"e":0.14},
{"c":"B1","r":2.48,"e":7.35},{"c":"B1","r":2.56,"e":4.8},{"c":"B1","r":2.64,"e":2.9},{"c":"B1","r":2.76,"e":0.4},{"c":"B1","r":2.9,"e":-1.3},{"c":"B1","r":3.05,"e":-2},{"c":"B1","r":3.3,"e":-2.3},{"c":"B1","r":3.6,"e":-2.2},{"c":"B1","r":4,"e":-1.95},{"c":"B1","r":4.5,"e":-1.75},{"c":"B1","r":5,"e":-1.45},{"c":"B1","r":5.5,"e":-1.1},{"c":"B1","r":6.1,"e":-0.75},{"c":"B1","r":7,"e":-0.5},{"c":"B1","r":8,"e":-0.3},{"c":"B1","r":9,"e":-0.2},{"c":"B1","r":10,"e":-0.13},
{"c":"B2","r":2.98,"e":10},{"c":"B2","r":3.05,"e":6.5},{"c":"B2","r":3.15,"e":3.5},{"c":"B2","r":3.3,"e":1},{"c":"B2","r":3.45,"e":-0.5},{"c":"B2","r":3.65,"e":-1.4},{"c":"B2","r":3.9,"e":-1.75},{"c":"B2","r":4.2,"e":-1.8},{"c":"B2","r":4.6,"e":-1.6},{"c":"B2","r":5.2,"e":-1.2},{"c":"B2","r":6,"e":-0.75},{"c":"B2","r":7,"e":-0.48},{"c":"B2","r":8,"e":-0.32},{"c":"B2","r":9,"e":-0.22},{"c":"B2","r":10,"e":-0.15},
{"c":"K1","r":3,"e":10},{"c":"K1","r":3.15,"e":7.5},{"c":"K1","r":3.35,"e":5.2},{"c":"K1","r":3.6,"e":3.6},{"c":"K1","r":3.9,"e":2.6},{"c":"K1","r":4.3,"e":2},{"c":"K1","r":4.8,"e":1.65},{"c":"K1","r":5.5,"e":1.4},{"c":"K1","r":6.2,"e":1.22},{"c":"K1","r":7,"e":1},{"c":"K1","r":8,"e":0.75},{"c":"K1","r":9,"e":0.53},{"c":"K1","r":10,"e":0.36},
{"c":"K8","r":2.95,"e":10},{"c":"K8","r":3.1,"e":7.3},{"c":"K8","r":3.3,"e":4.9},{"c":"K8","r":3.55,"e":3.1},{"c":"K8","r":3.85,"e":2.1},{"c":"K8","r":4.25,"e":1.5},{"c":"K8","r":4.75,"e":1.2},{"c":"K8","r":5.4,"e":1.05},{"c":"K8","r":6.3,"e":0.95},{"c":"K8","r":7.2,"e":0.82},{"c":"K8","r":8.2,"e":0.63},{"c":"K8","r":9.2,"e":0.45},{"c":"K8","r":10,"e":0.34},
{"c":"K2","r":2.9,"e":10},{"c":"K2","r":3.05,"e":7.2},{"c":"K2","r":3.25,"e":4.8},{"c":"K2","r":3.5,"e":3.2},{"c":"K2","r":3.8,"e":2.3},{"c":"K2","r":4.2,"e":1.7},{"c":"K2","r":4.7,"e":1.4},{"c":"K2","r":5.4,"e":1.2},{"c":"K2","r":6.2,"e":1.05},{"c":"K2","r":7,"e":0.9},{"c":"K2","r":8,"e":0.68},{"c":"K2","r":9,"e":0.48},{"c":"K2","r":10,"e":0.33},
{"c":"K3","r":2.8,"e":10},{"c":"K3","r":2.95,"e":7},{"c":"K3","r":3.15,"e":4.5},{"c":"K3","r":3.4,"e":2.8},{"c":"K3","r":3.7,"e":1.9},{"c":"K3","r":4.1,"e":1.35},{"c":"K3","r":4.6,"e":1.1},{"c":"K3","r":5.3,"e":0.95},{"c":"K3","r":6.2,"e":0.85},{"c":"K3","r":7,"e":0.75},{"c":"K3","r":8,"e":0.58},{"c":"K3","r":9,"e":0.42},{"c":"K3","r":10,"e":0.3},
{"c":"K4","r":2.7,"e":10},{"c":"K4","r":2.85,"e":6.8},{"c":"K4","r":3.05,"e":4.2},{"c":"K4","r":3.3,"e":2.5},{"c":"K4","r":3.6,"e":1.5},{"c":"K4","r":4,"e":0.95},{"c":"K4","r":4.5,"e":0.75},{"c":"K4","r":5.2,"e":0.7},{"c":"K4","r":6.2,"e":0.65},{"c":"K4","r":7,"e":0.58},{"c":"K4","r":8,"e":0.46},{"c":"K4","r":9,"e":0.35},{"c":"K4","r":10,"e":0.26},
{"c":"K9","r":2.8,"e":10},{"c":"K9","r":2.95,"e":6.9},{"c":"K9","r":3.15,"e":4.2},{"c":"K9","r":3.4,"e":2.4},{"c":"K9","r":3.75,"e":1.3},{"c":"K9","r":4.15,"e":0.8},{"c":"K9","r":4.7,"e":0.6},{"c":"K9","r":5.4,"e":0.58},{"c":"K9","r":6.3,"e":0.56},{"c":"K9","r":7.3,"e":0.5},{"c":"K9","r":8.3,"e":0.4},{"c":"K9","r":9.2,"e":0.31},{"c":"K9","r":10,"e":0.25},
{"c":"K5","r":2.75,"e":10},{"c":"K5","r":2.9,"e":6.5},{"c":"K5","r":3.1,"e":3.8},{"c":"K5","r":3.35,"e":2},{"c":"K5","r":3.7,"e":1},{"c":"K5","r":4.1,"e":0.5},{"c":"K5","r":4.7,"e":0.35},{"c":"K5","r":5.5,"e":0.38},{"c":"K5","r":6.3,"e":0.42},{"c":"K5","r":7.3,"e":0.4},{"c":"K5","r":8.3,"e":0.33},{"c":"K5","r":9.2,"e":0.27},{"c":"K5","r":10,"e":0.22},
{"c":"K6","r":3.1,"e":10},{"c":"K6","r":3.25,"e":7.2},{"c":"K6","r":3.45,"e":4.8},{"c":"K6","r":3.75,"e":2.8},{"c":"K6","r":4.1,"e":1.7},{"c":"K6","r":4.5,"e":1.15},{"c":"K6","r":5,"e":0.9},{"c":"K6","r":5.8,"e":0.8},{"c":"K6","r":6.8,"e":0.7},{"c":"K6","r":7.8,"e":0.56},{"c":"K6","r":9,"e":0.4},{"c":"K6","r":10,"e":0.3},
{"c":"K7","r":2.85,"e":10},{"c":"K7","r":3,"e":6.8},{"c":"K7","r":3.2,"e":4},{"c":"K7","r":3.45,"e":2.1},{"c":"K7","r":3.8,"e":0.9},{"c":"K7","r":4.2,"e":0.4},{"c":"K7","r":4.8,"e":0.2},{"c":"K7","r":5.5,"e":0.22},{"c":"K7","r":6.4,"e":0.3},{"c":"K7","r":7.4,"e":0.32},{"c":"K7","r":8.5,"e":0.28},{"c":"K7","r":10,"e":0.2}
]
},
"layer": [
  {
    "data": {"values": [{"z": 0}]},
    "mark": {"type": "rule", "color": "#000", "strokeWidth": 2.5},
    "encoding": {
      "y": {"field": "z", "type": "quantitative",
        "scale": {"domain": [-10, 10], "nice": false, "zero": false},
        "axis": {"values": [-10,-8,-6,-4,-2,0,2,4,6,8,10], "labelExpr": "'' + datum.value", "labelFontSize": 33, "labelPadding": 19, "ticks": false, "grid": true,
          "title": "Energia (kcal mol⁻¹)", "titleFontSize": 32, "titleAngle": -90, "titleX": -88, "titleY": 177, "titleBaseline": "alphabetic", "titleAlign": "center"}}
    }
  },
  {
    "data": {"values": [{"v":3},{"v":4},{"v":5},{"v":6},{"v":7},{"v":8},{"v":9}]},
    "mark": {"type": "rule", "color": "#000", "strokeWidth": 3},
    "encoding": {
      "x": {"field": "v", "type": "quantitative", "scale": {"domain": [2, 10], "nice": false, "zero": false}, "axis": null},
      "y": {"datum": -10, "type": "quantitative", "scale": {"domain": [-10, 10], "nice": false, "zero": false}, "axis": null},
      "y2": {"datum": -9.21}
    }
  },
  {
    "data": {"values": [{"v":3},{"v":4},{"v":5},{"v":6},{"v":7},{"v":8},{"v":9}]},
    "mark": {"type": "rule", "color": "#000", "strokeWidth": 3},
    "encoding": {
      "x": {"field": "v", "type": "quantitative", "scale": {"domain": [2, 10], "nice": false, "zero": false}, "axis": null},
      "y": {"datum": 10, "type": "quantitative", "scale": {"domain": [-10, 10], "nice": false, "zero": false}, "axis": null},
      "y2": {"datum": 9.21}
    }
  },
  {
    "data": {"values": [{"v":-8},{"v":-6},{"v":-4},{"v":-2},{"v":0},{"v":2},{"v":4},{"v":6},{"v":8}]},
    "mark": {"type": "rule", "color": "#000", "strokeWidth": 3},
    "encoding": {
      "y": {"field": "v", "type": "quantitative", "scale": {"domain": [-10, 10], "nice": false, "zero": false}, "axis": null},
      "x": {"datum": 2, "type": "quantitative", "scale": {"domain": [2, 10], "nice": false, "zero": false}, "axis": null},
      "x2": {"datum": 2.2545}
    }
  },
  {
    "data": {"values": [{"v":-8},{"v":-6},{"v":-4},{"v":-2},{"v":0},{"v":2},{"v":4},{"v":6},{"v":8}]},
    "mark": {"type": "rule", "color": "#000", "strokeWidth": 3},
    "encoding": {
      "y": {"field": "v", "type": "quantitative", "scale": {"domain": [-10, 10], "nice": false, "zero": false}, "axis": null},
      "x": {"datum": 10, "type": "quantitative", "scale": {"domain": [2, 10], "nice": false, "zero": false}, "axis": null},
      "x2": {"datum": 9.7455}
    }
  },
  {
    "data": {"name": "curves"},
    "mark": {"type": "line", "interpolate": "monotone", "strokeWidth": 2.5, "clip": true},
    "encoding": {
      "x": {"field": "r", "type": "quantitative",
        "scale": {"domain": [2, 10], "nice": false, "zero": false},
        "axis": {"values": [2,3,4,5,6,7,8,9,10], "labelExpr": "'' + datum.value", "labelFontSize": 33, "labelPadding": 22, "ticks": false, "grid": true,
          "title": "Distância Pt⋯ Oágua (Å)", "titleFontSize": 35, "titleX": 221, "titleY": 111, "titleBaseline": "alphabetic", "titleAlign": "center"}},
      "y": {"field": "e", "type": "quantitative", "scale": {"domain": [-10, 10], "nice": false, "zero": false}, "axis": null},
      "color": {"field": "c", "type": "nominal", "legend": null,
        "scale": {
          "domain": ["R1","R2","R7","R3","R4","R5","R6","O1","O4","O2","O5","O3","Y1","Y6","Y2","Y3","Y4","Y7","Y5","G1","G10","G2","G8","G3","G4","G5","G6","G9","G7","G11","T1","T2","T6","T3","T4","T7","T5","B3","B4","P1","P2","P3","M1","M2","M13","M3","M4","M5","M15","M6","M7","M16","M8","M9","M10","M11","M14","M12","B1","B2","K1","K8","K2","K3","K4","K9","K5","K6","K7"],
          "range": ["#dc0000","#e60a00","#e41000","#f01400","#f03c00","#e00800","#f05000","#f46c00","#f07800","#f88c00","#f89400","#f8a800","#f0cc00","#e8d800","#c8e400","#e6e000","#d8d400","#c0e800","#b4ec00","#94f000","#50f000","#64f000","#20f000","#34f000","#10e850","#00f020","#48f000","#00f040","#00e860","#00e868","#00e078","#00c088","#00d090","#00a888","#00b47c","#009888","#00e454","#007484","#0c4c94","#4c0094","#6c007c","#5c0088","#c8007c","#d40080","#c00078","#bc006c","#cc0074","#a8006a","#d0007c","#d8108c","#b40062","#b8006a","#c4006a","#b0005e","#d41484","#c8107a","#a00058","#b40070","#1c2890","#14147a","#200008","#480020","#300010","#400018","#500020","#600030","#600028","#3a0c18","#70002e"]
        }}
    }
  }
],
"resolve": {"axis": {"x": "independent", "y": "independent"}}
}
